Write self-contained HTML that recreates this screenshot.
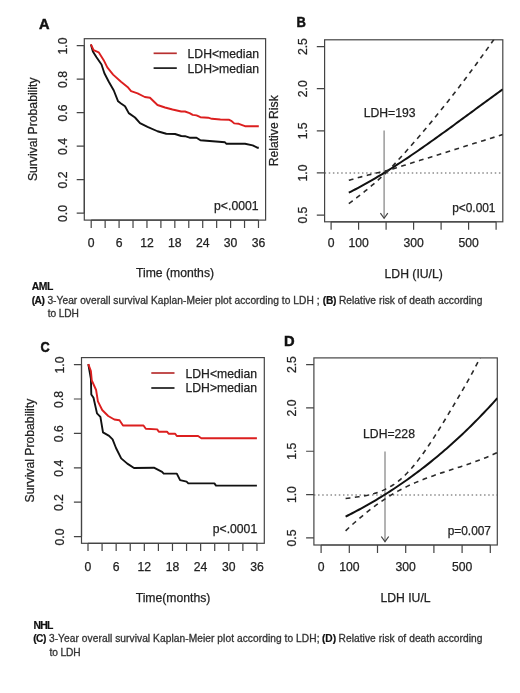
<!DOCTYPE html>
<html><head><meta charset="utf-8"><style>
html,body{margin:0;padding:0;background:#fff;}
svg{display:block;font-family:"Liberation Sans", sans-serif;will-change:transform;}
</style></head><body>
<svg width="520" height="693" viewBox="0 0 520 693">
<rect width="520" height="693" fill="#fff"/>
<rect x="84.3" y="38.7" width="181.3" height="181.4" fill="none" stroke="#444" stroke-width="1.2"/>
<text x="67.4" y="46.05" font-size="12.2" text-anchor="middle" font-weight="normal" fill="#222" transform="rotate(-90 67.4 46.05)" stroke="#222" stroke-width="0.25" >1.0</text>
<text x="67.4" y="79.55" font-size="12.2" text-anchor="middle" font-weight="normal" fill="#222" transform="rotate(-90 67.4 79.55)" stroke="#222" stroke-width="0.25" >0.8</text>
<text x="67.4" y="113.05" font-size="12.2" text-anchor="middle" font-weight="normal" fill="#222" transform="rotate(-90 67.4 113.05)" stroke="#222" stroke-width="0.25" >0.6</text>
<text x="67.4" y="146.55" font-size="12.2" text-anchor="middle" font-weight="normal" fill="#222" transform="rotate(-90 67.4 146.55)" stroke="#222" stroke-width="0.25" >0.4</text>
<text x="67.4" y="180.05" font-size="12.2" text-anchor="middle" font-weight="normal" fill="#222" transform="rotate(-90 67.4 180.05)" stroke="#222" stroke-width="0.25" >0.2</text>
<text x="67.4" y="213.55" font-size="12.2" text-anchor="middle" font-weight="normal" fill="#222" transform="rotate(-90 67.4 213.55)" stroke="#222" stroke-width="0.25" >0.0</text>
<text x="91.2" y="246.5" font-size="12.2" text-anchor="middle" font-weight="normal" fill="#222" stroke="#222" stroke-width="0.25" >0</text>
<text x="119.08" y="246.5" font-size="12.2" text-anchor="middle" font-weight="normal" fill="#222" stroke="#222" stroke-width="0.25" >6</text>
<text x="146.96" y="246.5" font-size="12.2" text-anchor="middle" font-weight="normal" fill="#222" stroke="#222" stroke-width="0.25" >12</text>
<text x="174.84" y="246.5" font-size="12.2" text-anchor="middle" font-weight="normal" fill="#222" stroke="#222" stroke-width="0.25" >18</text>
<text x="202.72" y="246.5" font-size="12.2" text-anchor="middle" font-weight="normal" fill="#222" stroke="#222" stroke-width="0.25" >24</text>
<text x="230.6" y="246.5" font-size="12.2" text-anchor="middle" font-weight="normal" fill="#222" stroke="#222" stroke-width="0.25" >30</text>
<text x="258.48" y="246.5" font-size="12.2" text-anchor="middle" font-weight="normal" fill="#222" stroke="#222" stroke-width="0.25" >36</text>
<path d="M76.7,45.65H84.3M76.7,79.15H84.3M76.7,112.65H84.3M76.7,146.15H84.3M76.7,179.65H84.3M76.7,213.15H84.3M84.3,45.65V213.15M91.2,220.1V227.9M105.14,220.1V227.9M119.08,220.1V227.9M133.02,220.1V227.9M146.96,220.1V227.9M160.9,220.1V227.9M174.84,220.1V227.9M188.78,220.1V227.9M202.72,220.1V227.9M216.66,220.1V227.9M230.6,220.1V227.9M244.54,220.1V227.9M258.48,220.1V227.9M91.2,220.1H258.48" stroke="#444" stroke-width="1.2" fill="none"/>
<text x="175" y="276.7" font-size="12.2" text-anchor="middle" font-weight="normal" fill="#222" stroke="#222" stroke-width="0.25" >Time (months)</text>
<text x="37.3" y="129.3" font-size="12.2" text-anchor="middle" font-weight="normal" fill="#222" transform="rotate(-90 37.3 129.3)" stroke="#222" stroke-width="0.25" >Survival Probability</text>
<path d="M153.6,53.3H176.8" stroke="#b83030" stroke-width="1.7"/>
<path d="M153.6,68.1H176.8" stroke="#1a1a1a" stroke-width="1.7"/>
<text x="187.6" y="57.9" font-size="12.2" text-anchor="start" font-weight="normal" fill="#222" stroke="#222" stroke-width="0.25" textLength="71.5" lengthAdjust="spacingAndGlyphs">LDH&lt;median</text>
<text x="187.6" y="72.5" font-size="12.2" text-anchor="start" font-weight="normal" fill="#222" stroke="#222" stroke-width="0.25" textLength="71.5" lengthAdjust="spacingAndGlyphs">LDH&gt;median</text>
<text x="258.5" y="210" font-size="12.2" text-anchor="end" font-weight="normal" fill="#222" stroke="#222" stroke-width="0.25" >p&lt;.0001</text>
<text transform="translate(38.9,28.9) scale(0.94,1)" font-size="15.5" font-weight="bold" fill="#111" stroke="#111" stroke-width="0.5">A</text>
<polyline points="90.9,44.6 92.9,51.5 96.5,57.3 101.5,64.5 104.4,73.2 108.8,81.8 113.8,90.5 118.1,101.3 121,103.5 125,106.25 128.75,113.1 135,117.5 140,123.1 147.5,126.9 157.5,131.25 166.25,133.75 175,134 181.25,136 185,136.2 189.6,137.7 196.5,137.7 200.4,140.3 206.5,140.8 215.8,141.5 225,142.3 226.5,143.8 245,143.8 252.7,145.4 257.3,147.7 258.8,147.7" fill="none" stroke="#111" stroke-width="1.9" stroke-linejoin="round"/>
<polyline points="90.9,44.3 93.6,50.1 98.7,52.3 103.7,60.2 107.3,67.4 113.1,74.6 121,81.8 127.5,86.9 131.1,91.2 137.6,93.4 144.8,97 150,97.7 157.5,105 165,107.5 172.5,109.5 181.25,111.5 185,111.5 189.6,113.1 192.7,114.9 196.5,115.4 200.4,117.2 208.1,117.7 211.9,118.8 220.4,119.5 228.8,119.7 231.2,120.8 234.2,123.4 238.8,123.8 245,126.2 258.8,126.2" fill="none" stroke="#dc1f1f" stroke-width="1.9" stroke-linejoin="round"/>
<rect x="81.5" y="357.6" width="182.8" height="185.7" fill="none" stroke="#444" stroke-width="1.2"/>
<text x="63.5" y="365" font-size="12.2" text-anchor="middle" font-weight="normal" fill="#222" transform="rotate(-90 63.5 365)" stroke="#222" stroke-width="0.25" >1.0</text>
<text x="63.5" y="399.4" font-size="12.2" text-anchor="middle" font-weight="normal" fill="#222" transform="rotate(-90 63.5 399.4)" stroke="#222" stroke-width="0.25" >0.8</text>
<text x="63.5" y="433.8" font-size="12.2" text-anchor="middle" font-weight="normal" fill="#222" transform="rotate(-90 63.5 433.8)" stroke="#222" stroke-width="0.25" >0.6</text>
<text x="63.5" y="468.2" font-size="12.2" text-anchor="middle" font-weight="normal" fill="#222" transform="rotate(-90 63.5 468.2)" stroke="#222" stroke-width="0.25" >0.4</text>
<text x="63.5" y="502.6" font-size="12.2" text-anchor="middle" font-weight="normal" fill="#222" transform="rotate(-90 63.5 502.6)" stroke="#222" stroke-width="0.25" >0.2</text>
<text x="63.5" y="537" font-size="12.2" text-anchor="middle" font-weight="normal" fill="#222" transform="rotate(-90 63.5 537)" stroke="#222" stroke-width="0.25" >0.0</text>
<text x="88" y="570.5" font-size="12.2" text-anchor="middle" font-weight="normal" fill="#222" stroke="#222" stroke-width="0.25" >0</text>
<text x="116.16" y="570.5" font-size="12.2" text-anchor="middle" font-weight="normal" fill="#222" stroke="#222" stroke-width="0.25" >6</text>
<text x="144.32" y="570.5" font-size="12.2" text-anchor="middle" font-weight="normal" fill="#222" stroke="#222" stroke-width="0.25" >12</text>
<text x="172.48" y="570.5" font-size="12.2" text-anchor="middle" font-weight="normal" fill="#222" stroke="#222" stroke-width="0.25" >18</text>
<text x="200.64" y="570.5" font-size="12.2" text-anchor="middle" font-weight="normal" fill="#222" stroke="#222" stroke-width="0.25" >24</text>
<text x="228.8" y="570.5" font-size="12.2" text-anchor="middle" font-weight="normal" fill="#222" stroke="#222" stroke-width="0.25" >30</text>
<text x="256.96" y="570.5" font-size="12.2" text-anchor="middle" font-weight="normal" fill="#222" stroke="#222" stroke-width="0.25" >36</text>
<path d="M73.9,364.6H81.5M73.9,399H81.5M73.9,433.4H81.5M73.9,467.8H81.5M73.9,502.2H81.5M73.9,536.6H81.5M81.5,364.6V536.6M88,543.3V551.1M102.08,543.3V551.1M116.16,543.3V551.1M130.24,543.3V551.1M144.32,543.3V551.1M158.4,543.3V551.1M172.48,543.3V551.1M186.56,543.3V551.1M200.64,543.3V551.1M214.72,543.3V551.1M228.8,543.3V551.1M242.88,543.3V551.1M256.96,543.3V551.1M88,543.3H256.96" stroke="#444" stroke-width="1.2" fill="none"/>
<text x="173" y="601.5" font-size="12.2" text-anchor="middle" font-weight="normal" fill="#222" stroke="#222" stroke-width="0.25" >Time(months)</text>
<text x="34.4" y="450.6" font-size="12.2" text-anchor="middle" font-weight="normal" fill="#222" transform="rotate(-90 34.4 450.6)" stroke="#222" stroke-width="0.25" >Survival Probability</text>
<path d="M151.3,373H174.5" stroke="#b83030" stroke-width="1.7"/>
<path d="M151.3,388H174.5" stroke="#1a1a1a" stroke-width="1.7"/>
<text x="185.5" y="377.6" font-size="12.2" text-anchor="start" font-weight="normal" fill="#222" stroke="#222" stroke-width="0.25" textLength="71.5" lengthAdjust="spacingAndGlyphs">LDH&lt;median</text>
<text x="185.5" y="392.4" font-size="12.2" text-anchor="start" font-weight="normal" fill="#222" stroke="#222" stroke-width="0.25" textLength="71.5" lengthAdjust="spacingAndGlyphs">LDH&gt;median</text>
<text x="257.2" y="532.9" font-size="12.2" text-anchor="end" font-weight="normal" fill="#222" stroke="#222" stroke-width="0.25" >p&lt;.0001</text>
<text transform="translate(40.6,351.7) scale(0.85,1)" font-size="15" font-weight="bold" fill="#111" stroke="#111" stroke-width="0.5">C</text>
<polyline points="88.3,364.1 90.9,378.8 91.3,394.4 93.5,397.8 97,413.4 100.4,416.9 103,432.4 109.1,435.9 112.6,439.4 116,448 121.2,458.4 127.3,463.6 134,468 153.9,467.7 162.1,471.9 163.7,473.6 176.8,473.6 180.1,480.1 186.6,481.7 188.3,483.4 214.4,483.4 216,485.6 256.9,485.6" fill="none" stroke="#111" stroke-width="1.9" stroke-linejoin="round"/>
<polyline points="88.3,364.1 90.9,371 91.8,380.5 96.1,390 97.9,401.3 102.2,410 108.2,416 114.3,419.5 119.5,420.3 123,425.5 143.5,425.5 145.8,428.8 157.2,429.4 158.8,431.7 167,431.7 168.6,433.7 175.2,433.7 176.8,436 198.1,436 201.3,438.2 256.9,438.2" fill="none" stroke="#dc1f1f" stroke-width="1.9" stroke-linejoin="round"/>
<defs><clipPath id="clipB"><rect x="324.6" y="39.8" width="178.2" height="182"/></clipPath></defs>
<rect x="324.6" y="39.8" width="178.2" height="182" fill="none" stroke="#444" stroke-width="1.2"/>
<text x="307" y="46.6" font-size="12.2" text-anchor="middle" font-weight="normal" fill="#222" transform="rotate(-90 307 46.6)" stroke="#222" stroke-width="0.25" >2.5</text>
<text x="307" y="88.72" font-size="12.2" text-anchor="middle" font-weight="normal" fill="#222" transform="rotate(-90 307 88.72)" stroke="#222" stroke-width="0.25" >2.0</text>
<text x="307" y="130.85" font-size="12.2" text-anchor="middle" font-weight="normal" fill="#222" transform="rotate(-90 307 130.85)" stroke="#222" stroke-width="0.25" >1.5</text>
<text x="307" y="172.97" font-size="12.2" text-anchor="middle" font-weight="normal" fill="#222" transform="rotate(-90 307 172.97)" stroke="#222" stroke-width="0.25" >1.0</text>
<text x="307" y="215.1" font-size="12.2" text-anchor="middle" font-weight="normal" fill="#222" transform="rotate(-90 307 215.1)" stroke="#222" stroke-width="0.25" >0.5</text>
<text x="331.1" y="247" font-size="12.2" text-anchor="middle" font-weight="normal" fill="#222" stroke="#222" stroke-width="0.25" >0</text>
<text x="358.6" y="247" font-size="12.2" text-anchor="middle" font-weight="normal" fill="#222" stroke="#222" stroke-width="0.25" >100</text>
<text x="413.6" y="247" font-size="12.2" text-anchor="middle" font-weight="normal" fill="#222" stroke="#222" stroke-width="0.25" >300</text>
<text x="468.6" y="247" font-size="12.2" text-anchor="middle" font-weight="normal" fill="#222" stroke="#222" stroke-width="0.25" >500</text>
<path d="M316.8,46.6H324.6M316.8,88.72H324.6M316.8,130.85H324.6M316.8,172.97H324.6M316.8,215.1H324.6M331.1,221.8V229.8M358.6,221.8V229.8M386.1,221.8V229.8M413.6,221.8V229.8M441.1,221.8V229.8M468.6,221.8V229.8M496.1,221.8V229.8M331.1,221.8H496.1" stroke="#444" stroke-width="1.2" fill="none"/>
<text x="413.7" y="277.8" font-size="12.2" text-anchor="middle" font-weight="normal" fill="#222" stroke="#222" stroke-width="0.25" >LDH (IU/L)</text>
<text x="278" y="130.8" font-size="12.2" text-anchor="middle" font-weight="normal" fill="#222" transform="rotate(-90 278 130.8)" stroke="#222" stroke-width="0.25" >Relative Risk</text>
<path d="M324.6,173H502.8" stroke="#555" stroke-width="1.1" stroke-dasharray="1.5,2.65"/>
<path d="M384.1,130.4V218.3" stroke="#8a8a8a" stroke-width="1.3" fill="none"/>
<path d="M380.4,213.1L384.1,218.3L387.8,213.1" stroke="#444" stroke-width="1.2" fill="none"/>
<text x="363.7" y="116.5" font-size="12.2" text-anchor="start" font-weight="normal" fill="#222" stroke="#222" stroke-width="0.25" >LDH=193</text>
<text x="495.5" y="212.2" font-size="11.9" text-anchor="end" font-weight="normal" fill="#222" stroke="#222" stroke-width="0.25" >p&lt;0.001</text>
<text transform="translate(296.6,26.5) scale(0.84,1)" font-size="15.5" font-weight="bold" fill="#111" stroke="#111" stroke-width="0.5">B</text>
<g clip-path="url(#clipB)" fill="none" stroke="#111"><polyline points="348.8,192.64 351.03,191.53 353.26,190.39 355.5,189.24 357.73,188.06 359.96,186.87 362.19,185.66 364.42,184.43 366.66,183.19 368.89,181.93 371.12,180.65 373.35,179.36 375.58,178.05 377.81,176.73 380.05,175.39 382.28,174.04 384.51,172.67 386.74,171.29 388.97,169.89 391.21,168.49 393.44,167.07 395.67,165.63 397.9,164.19 400.13,162.73 402.37,161.26 404.6,159.79 406.83,158.3 409.06,156.8 411.29,155.29 413.52,153.77 415.76,152.24 417.99,150.7 420.22,149.16 422.45,147.6 424.68,146.04 426.92,144.47 429.15,142.9 431.38,141.31 433.61,139.73 435.84,138.13 438.08,136.53 440.31,134.92 442.54,133.31 444.77,131.7 447,130.08 449.23,128.45 451.47,126.83 453.7,125.2 455.93,123.56 458.16,121.93 460.39,120.29 462.63,118.65 464.86,117.01 467.09,115.36 469.32,113.72 471.55,112.08 473.79,110.44 476.02,108.79 478.25,107.15 480.48,105.51 482.71,103.87 484.94,102.23 487.18,100.6 489.41,98.96 491.64,97.33 493.87,95.7 496.1,94.08 498.34,92.46 500.57,90.84 502.8,89.23" stroke-width="2"/><polyline points="348.8,180.35 350.18,179.94 351.55,179.54 352.93,179.15 354.3,178.75 355.68,178.37 357.06,177.98 358.43,177.6 359.81,177.23 361.18,176.86 362.56,176.49 363.93,176.13 365.31,175.77 366.69,175.41 368.06,175.06 369.44,174.72 370.81,174.37 372.19,174.04 373.57,173.7 374.94,173.37 376.32,173.05 377.69,172.72 379.07,172.41 380.44,172.09 381.82,171.78 383.2,171.48 384.57,171.18 385.95,170.88 387.32,170.59 388.7,170.3 392.63,166.08 396.57,161.83 400.5,157.53 404.44,153.17 408.37,148.75 412.31,144.28 416.24,139.76 420.18,135.18 424.11,130.55 428.04,125.87 431.98,121.13 435.91,116.34 439.85,111.49 443.78,106.59 447.72,101.63 451.65,96.63 455.59,91.56 459.52,86.45 463.46,81.28 467.39,76.05 471.32,70.77 475.26,65.44 479.19,60.05 483.13,54.61 487.06,49.12 491,43.57 494.93,37.97 498.87,32.31 502.8,26.6" stroke-width="1.6" stroke="#2a2a2a" stroke-dasharray="4.8,4.5"/><polyline points="348.8,203.57 350.18,202.58 351.55,201.58 352.93,200.57 354.3,199.54 355.68,198.51 357.06,197.47 358.43,196.41 359.81,195.34 361.18,194.26 362.56,193.17 363.93,192.07 365.31,190.96 366.69,189.83 368.06,188.7 369.44,187.55 370.81,186.39 372.19,185.22 373.57,184.04 374.94,182.85 376.32,181.64 377.69,180.43 379.07,179.2 380.44,177.96 381.82,176.72 383.2,175.45 384.57,174.18 385.95,172.9 387.32,171.61 388.7,170.3 392.63,169.06 396.57,167.82 400.5,166.57 404.44,165.33 408.37,164.09 412.31,162.85 416.24,161.6 420.18,160.36 424.11,159.13 428.04,157.89 431.98,156.65 435.91,155.42 439.85,154.18 443.78,152.95 447.72,151.71 451.65,150.48 455.59,149.25 459.52,148.02 463.46,146.79 467.39,145.56 471.32,144.34 475.26,143.11 479.19,141.88 483.13,140.66 487.06,139.44 491,138.21 494.93,136.99 498.87,135.77 502.8,134.55" stroke-width="1.6" stroke="#2a2a2a" stroke-dasharray="4.8,4.5"/></g>
<defs><clipPath id="clipD"><rect x="313.9" y="357.9" width="183.4" height="187.1"/></clipPath></defs>
<rect x="313.9" y="357.9" width="183.4" height="187.1" fill="none" stroke="#444" stroke-width="1.2"/>
<text x="296.5" y="364.6" font-size="12.2" text-anchor="middle" font-weight="normal" fill="#222" transform="rotate(-90 296.5 364.6)" stroke="#222" stroke-width="0.25" >2.5</text>
<text x="296.5" y="407.93" font-size="12.2" text-anchor="middle" font-weight="normal" fill="#222" transform="rotate(-90 296.5 407.93)" stroke="#222" stroke-width="0.25" >2.0</text>
<text x="296.5" y="451.26" font-size="12.2" text-anchor="middle" font-weight="normal" fill="#222" transform="rotate(-90 296.5 451.26)" stroke="#222" stroke-width="0.25" >1.5</text>
<text x="296.5" y="494.59" font-size="12.2" text-anchor="middle" font-weight="normal" fill="#222" transform="rotate(-90 296.5 494.59)" stroke="#222" stroke-width="0.25" >1.0</text>
<text x="296.5" y="537.92" font-size="12.2" text-anchor="middle" font-weight="normal" fill="#222" transform="rotate(-90 296.5 537.92)" stroke="#222" stroke-width="0.25" >0.5</text>
<text x="321.1" y="571" font-size="12.2" text-anchor="middle" font-weight="normal" fill="#222" stroke="#222" stroke-width="0.25" >0</text>
<text x="349.3" y="571" font-size="12.2" text-anchor="middle" font-weight="normal" fill="#222" stroke="#222" stroke-width="0.25" >100</text>
<text x="405.7" y="571" font-size="12.2" text-anchor="middle" font-weight="normal" fill="#222" stroke="#222" stroke-width="0.25" >300</text>
<text x="462.1" y="571" font-size="12.2" text-anchor="middle" font-weight="normal" fill="#222" stroke="#222" stroke-width="0.25" >500</text>
<path d="M306.1,364.6H313.9M306.1,407.93H313.9M306.1,451.26H313.9M306.1,494.59H313.9M306.1,537.92H313.9M321.1,545V553M349.3,545V553M377.5,545V553M405.7,545V553M433.9,545V553M462.1,545V553M490.3,545V553M321.1,545H490.3" stroke="#444" stroke-width="1.2" fill="none"/>
<text x="405.5" y="601.9" font-size="12.2" text-anchor="middle" font-weight="normal" fill="#222" stroke="#222" stroke-width="0.25" >LDH IU/L</text>
<path d="M313.9,495H497.3" stroke="#555" stroke-width="1.1" stroke-dasharray="1.5,2.65"/>
<path d="M385,451.6V541.7" stroke="#8a8a8a" stroke-width="1.3" fill="none"/>
<path d="M381.3,536.5L385,541.7L388.7,536.5" stroke="#444" stroke-width="1.2" fill="none"/>
<text x="363.1" y="437.7" font-size="12.2" text-anchor="start" font-weight="normal" fill="#222" stroke="#222" stroke-width="0.25" >LDH=228</text>
<text x="491" y="534.5" font-size="11.9" text-anchor="end" font-weight="normal" fill="#222" stroke="#222" stroke-width="0.25" >p=0.007</text>
<text transform="translate(284,346.4) scale(0.95,1)" font-size="15.5" font-weight="bold" fill="#111" stroke="#111" stroke-width="0.5">D</text>
<g clip-path="url(#clipD)" fill="none" stroke="#111"><polyline points="345.6,516.6 347.8,515.49 350,514.37 352.2,513.24 354.39,512.09 356.59,510.93 358.79,509.75 360.99,508.56 363.19,507.35 365.39,506.13 367.59,504.89 369.78,503.63 371.98,502.36 374.18,501.07 376.38,499.77 378.58,498.45 380.78,497.11 382.98,495.75 385.17,494.38 387.37,492.99 389.57,491.59 391.77,490.16 393.97,488.72 396.17,487.26 398.37,485.79 400.56,484.29 402.76,482.78 404.96,481.25 407.16,479.7 409.36,478.13 411.56,476.54 413.76,474.93 415.95,473.31 418.15,471.66 420.35,470 422.55,468.31 424.75,466.61 426.95,464.88 429.14,463.14 431.34,461.37 433.54,459.59 435.74,457.78 437.94,455.95 440.14,454.1 442.34,452.24 444.53,450.35 446.73,448.43 448.93,446.5 451.13,444.54 453.33,442.57 455.53,440.57 457.73,438.55 459.92,436.5 462.12,434.44 464.32,432.35 466.52,430.24 468.72,428.1 470.92,425.94 473.12,423.76 475.31,421.56 477.51,419.33 479.71,417.08 481.91,414.8 484.11,412.5 486.31,410.18 488.51,407.83 490.7,405.45 492.9,403.06 495.1,400.63 497.3,398.18" stroke-width="2"/><polyline points="345.6,498.46 347.8,498.19 350,497.92 352.2,497.65 354.39,497.37 356.59,497.08 358.79,496.77 360.99,496.43 363.19,496.06 365.39,495.66 367.59,495.21 369.78,494.71 371.98,494.16 374.18,493.55 376.38,492.87 378.58,492.12 380.78,491.29 382.98,490.37 385.17,489.37 387.37,488.26 389.57,487.06 391.77,485.74 393.97,484.31 396.17,482.76 398.37,481.09 400.56,479.28 402.76,477.33 404.96,475.24 407.16,473.03 409.36,470.68 411.56,468.21 413.76,465.62 415.95,462.93 418.15,460.13 420.35,457.23 422.55,454.24 424.75,451.16 426.95,448 429.14,444.76 431.34,441.46 433.54,438.09 435.74,434.66 437.94,431.18 440.14,427.65 442.34,424.08 444.53,420.48 446.73,416.85 448.93,413.19 451.13,409.52 453.33,405.83 455.53,402.14 457.73,398.43 459.92,394.7 462.12,390.93 464.32,387.13 466.52,383.27 468.72,379.36 470.92,375.38 473.12,371.33 475.31,367.2 477.51,362.97 479.71,358.64 481.91,354.2 484.11,349.65 486.31,344.97 488.51,340.15 490.7,335.2 492.9,330.09 495.1,324.82 497.3,319.38" stroke-width="1.6" stroke="#2a2a2a" stroke-dasharray="4.8,4.5"/><polyline points="345.6,530.79 347.8,528.74 350,526.71 352.2,524.72 354.39,522.76 356.59,520.83 358.79,518.93 360.99,517.06 363.19,515.22 365.39,513.42 367.59,511.65 369.78,509.92 371.98,508.22 374.18,506.56 376.38,504.93 378.58,503.35 380.78,501.8 382.98,500.29 385.17,498.82 387.37,497.39 389.57,496 391.77,494.65 393.97,493.35 396.17,492.09 398.37,490.87 400.56,489.68 402.76,488.54 404.96,487.43 407.16,486.36 409.36,485.32 411.56,484.32 413.76,483.34 415.95,482.39 418.15,481.47 420.35,480.57 422.55,479.7 424.75,478.85 426.95,478.01 429.14,477.2 431.34,476.41 433.54,475.63 435.74,474.86 437.94,474.11 440.14,473.36 442.34,472.63 444.53,471.9 446.73,471.18 448.93,470.47 451.13,469.75 453.33,469.04 455.53,468.33 457.73,467.61 459.92,466.89 462.12,466.17 464.32,465.44 466.52,464.7 468.72,463.95 470.92,463.18 473.12,462.41 475.31,461.62 477.51,460.81 479.71,459.99 481.91,459.14 484.11,458.28 486.31,457.39 488.51,456.47 490.7,455.53 492.9,454.56 495.1,453.57 497.3,452.54" stroke-width="1.6" stroke="#2a2a2a" stroke-dasharray="4.8,4.5"/></g>
<text x="31.7" y="290.4" font-size="10.4" font-weight="bold" fill="#111" stroke="#111" stroke-width="0.2" textLength="21.7" lengthAdjust="spacing">AML</text>
<text x="31.7" y="304" font-size="10.2" font-weight="bold" fill="#111" stroke="#111" stroke-width="0.2" textLength="13.2" lengthAdjust="spacing">(A)</text>
<text x="47.4" y="304" font-size="10.2" font-weight="normal" fill="#333" stroke="#333" stroke-width="0.3" textLength="272.1" lengthAdjust="spacing">3-Year overall survival Kaplan-Meier plot according to LDH ;</text>
<text x="322.7" y="304" font-size="10.2" font-weight="bold" fill="#111" stroke="#111" stroke-width="0.2" textLength="13.8" lengthAdjust="spacing">(B)</text>
<text x="338.9" y="304" font-size="10.2" font-weight="normal" fill="#333" stroke="#333" stroke-width="0.3" textLength="143.6" lengthAdjust="spacing">Relative risk of death according</text>
<text x="47.7" y="317.4" font-size="10.2" font-weight="normal" fill="#333" stroke="#333" stroke-width="0.3" textLength="31.1" lengthAdjust="spacing">to LDH</text>
<text x="33.5" y="628.5" font-size="10.4" font-weight="bold" fill="#111" stroke="#111" stroke-width="0.2" textLength="19.9" lengthAdjust="spacing">NHL</text>
<text x="33.2" y="642.1" font-size="10.2" font-weight="bold" fill="#111" stroke="#111" stroke-width="0.2" textLength="13.1" lengthAdjust="spacing">(C)</text>
<text x="48.9" y="642.1" font-size="10.2" font-weight="normal" fill="#333" stroke="#333" stroke-width="0.3" textLength="270.6" lengthAdjust="spacing">3-Year overall survival Kaplan-Meier plot according to LDH;</text>
<text x="322" y="642.1" font-size="10.2" font-weight="bold" fill="#111" stroke="#111" stroke-width="0.2" textLength="14.1" lengthAdjust="spacing">(D)</text>
<text x="338.5" y="642.1" font-size="10.2" font-weight="normal" fill="#333" stroke="#333" stroke-width="0.3" textLength="144" lengthAdjust="spacing">Relative risk of death according</text>
<text x="49.5" y="655.5" font-size="10.2" font-weight="normal" fill="#333" stroke="#333" stroke-width="0.3" textLength="31.1" lengthAdjust="spacing">to LDH</text>
</svg>
</body></html>
